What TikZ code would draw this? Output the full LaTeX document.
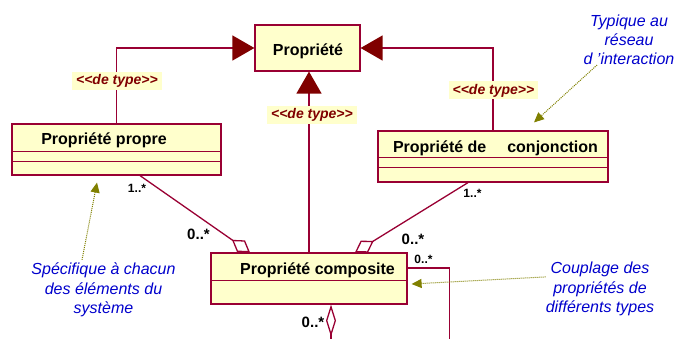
\documentclass[tikz,border=0pt]{standalone}
\usepackage{fontspec}
\setmainfont{Liberation Sans}
\usetikzlibrary{arrows.meta}
\definecolor{boxfill}{RGB}{255,255,204}
\definecolor{boxline}{RGB}{153,0,51}
\definecolor{tri}{RGB}{128,0,0}
\definecolor{notecol}{RGB}{0,0,204}
\definecolor{olivec}{RGB}{128,128,0}
\begin{document}
\begin{tikzpicture}[x=1pt,y=-1pt,
  classbox/.style={draw=boxline, fill=boxfill, line width=1.2pt, minimum height=51pt, inner sep=0pt},
  title/.style={font=\fontsize{16}{19}\selectfont\bfseries, anchor=base, inner sep=0pt},
  stereo/.style={font=\fontsize{14}{16}\selectfont\bfseries\itshape, text=tri, fill=boxfill, anchor=base, inner xsep=4pt, inner ysep=2.5pt},
  mult/.style={font=\fontsize{12}{14}\selectfont\bfseries, anchor=base, inner sep=0pt},
  multbig/.style={font=\fontsize{15}{17}\selectfont\bfseries, anchor=base, inner sep=0pt},
  note/.style={font=\fontsize{16}{19.3}\selectfont\itshape, text=notecol, align=center, inner sep=0pt},
  conn/.style={draw=boxline, line width=1.3pt},
  compline/.style={draw=boxline, line width=1pt},
  gen/.style={conn, -{Triangle[length=22pt,width=25pt,color=tri,fill=tri]}},
  agg/.style={conn, -{Diamond[open,length=22pt,width=14pt]}},
  notearrow/.style={draw=olivec, dash pattern=on 1pt off 1pt, line width=1pt, -{Triangle[length=10pt,width=9pt,color=olivec,fill=olivec]}}
]
\useasboundingbox (0,0) rectangle (675,338);
\clip (0,0) rectangle (675,338);

% classes
\node[classbox, minimum width=105pt, minimum height=46pt] (prop) at (307.5,48) {};
\node[title] (propT) at (308,55) {Propriété};
\node[classbox, minimum width=209pt] (propre) at (116.5,149.5) {};
\node[title] (propreT) at (104,144.5) {Propriété propre};
\node[classbox, minimum width=230pt] (conj) at (493,156.5) {};
\node[title] (conjT) at (495.5,152) {Propriété de\hspace{16.5pt} conjonction};
\node[classbox, minimum width=196pt] (comp) at (309,278.5) {};
\node[title] (compT) at (317.5,274) {Propriété composite};

% compartments
\draw[compline] ([yshift=-1.5pt]propre.west) -- ([yshift=-1.5pt]propre.east);
\draw[compline] ([yshift=-11.5pt]propre.west) -- ([yshift=-11.5pt]propre.east);
\draw[compline] ([yshift=-0.5pt]conj.west) -- ([yshift=-0.5pt]conj.east);
\draw[compline] ([yshift=-10.5pt]conj.west) -- ([yshift=-10.5pt]conj.east);
\draw[compline] ([yshift=-1.5pt]comp.west) -- ([yshift=-1.5pt]comp.east);

% generalisations
\draw[gen] (propre.north) |- (prop.west);
\draw[gen] (conj.north) |- (prop.east);
\draw[gen] (comp.north) -- (comp.north |- prop.south);

\node[stereo] (st1) at (117,84.5) {<\kern0pt<de type>\kern0pt>};
\node[stereo] (st2) at (493.5,94) {<\kern0pt<de type>\kern0pt>};
\node[stereo] (st3) at (312,118.5) {<\kern0pt<de type>\kern0pt>};

% aggregations
\draw[agg] ([xshift=23.5pt]propre.south) -- ([xshift=-59pt]comp.north);
\draw[agg] ([xshift=-25pt]conj.south) -- ([xshift=46pt]comp.north);
\draw[conn, {Diamond[open,length=32pt,width=10pt]}-] ([xshift=22pt]comp.south) -- ++(0,50);
\draw[conn] ([yshift=10.5pt]comp.east) -| ++(42,80);

% multiplicities
\node[mult] (m1) at (137,192) {1..*};
\node[multbig] (m2) at (198.5,239) {0..*};
\node[mult] (m3) at (472.5,197) {1..*};
\node[multbig] (m4) at (413,244) {0..*};
\node[mult] (m5) at (423.5,263) {0..*};
\node[multbig] (m6) at (313,327) {0..*};

% notes
\node[note] (n1) at (629,39.7) {Typique au\\réseau\\d 'interaction};
\node[note] (n2) at (103.5,289.9) {Spécifique à chacun\\des éléments du\\système};
\node[note] (n3) at (600,288.9) {Couplage des\\propriétés de\\différents types};

\draw[notearrow] ([xshift=-32pt]n1.south) -- ([xshift=41pt,yshift=8pt]conj.north);
\draw[notearrow] ([xshift=-21.5pt,yshift=3pt]n2.north) -- ([xshift=-19.5pt,yshift=-7pt]propre.south);
\draw[notearrow] ([yshift=12pt]n3.west) -- ([xshift=4pt,yshift=-5.5pt]comp.east);
\end{tikzpicture}
\end{document}
